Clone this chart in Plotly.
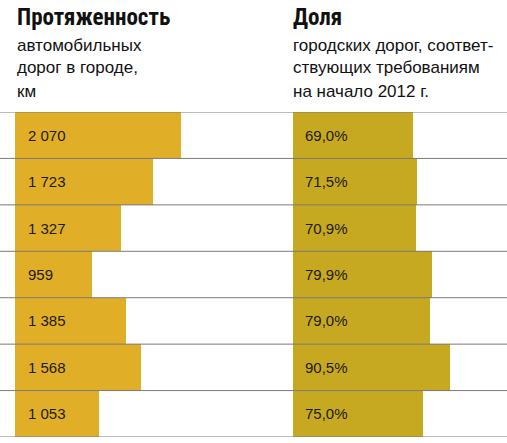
import plotly.graph_objects as go

# values
length_km = [2070, 1723, 1327, 959, 1385, 1568, 1053]
length_labels = ["2 070", "1 723", "1 327", "959", "1 385", "1 568", "1 053"]
share_pct = [69.0, 71.5, 70.9, 79.9, 79.0, 90.5, 75.0]
share_labels = ["69,0%", "71,5%", "70,9%", "79,9%", "79,0%", "90,5%", "75,0%"]
rows = list(range(len(length_km)))

left_title = "Протяженность"
left_sub = ["автомобильных", "дорог в городе,", "км"]
right_title = "Доля"
right_sub = ["городских дорог, соответ-", "ствующих требованиям", "на начало 2012 г."]

W, H = 507, 443
TXT_FONT = "Liberation Sans, Arial, sans-serif"
HEAD_FONT = "Roboto Condensed, DejaVu Sans Condensed, sans-serif"


def py(px):
    return 1 - px / H


fig = go.Figure()

fig.add_trace(
    go.Bar(
        x=length_km,
        y=rows,
        orientation="h",
        marker=dict(color="#E1AE28", line=dict(width=0)),
        xaxis="x",
        yaxis="y",
        hoverinfo="skip",
    )
)
fig.add_trace(
    go.Bar(
        x=share_pct,
        y=rows,
        orientation="h",
        marker=dict(color="#C6A920", line=dict(width=0)),
        xaxis="x2",
        yaxis="y",
        hoverinfo="skip",
    )
)

annotations = []
for r, lab in zip(rows, length_labels):
    annotations.append(
        dict(x=0, y=r, xref="x", yref="y", text=lab, showarrow=False,
             xanchor="left", xshift=11, font=dict(family=TXT_FONT, size=15, color="#1e1a10"))
    )
for r, lab in zip(rows, share_labels):
    annotations.append(
        dict(x=0, y=r, xref="x2", yref="y", text=lab, showarrow=False,
             xanchor="left", xshift=10, font=dict(family=TXT_FONT, size=15, color="#1e1a10"))
    )

# headers
annotations.append(
    dict(x=15 / W, y=py(18), xref="paper", yref="paper", text="<b>%s</b>" % left_title,
         showarrow=False, xanchor="left", yanchor="middle",
         font=dict(family=HEAD_FONT, size=23, color="#111"))
)
annotations.append(
    dict(x=291 / W, y=py(18), xref="paper", yref="paper", text="<b>%s</b>" % right_title,
         showarrow=False, xanchor="left", yanchor="middle",
         font=dict(family=HEAD_FONT, size=23, color="#111"))
)
for i, (a, b) in enumerate(zip(left_sub, right_sub)):
    yy = py(45 + 23 * i)
    annotations.append(
        dict(x=15 / W, y=yy, xref="paper", yref="paper", text=a, showarrow=False,
             xanchor="left", yanchor="middle", font=dict(family=TXT_FONT, size=17, color="#111"))
    )
    annotations.append(
        dict(x=291 / W, y=yy, xref="paper", yref="paper", text=b, showarrow=False,
             xanchor="left", yanchor="middle", font=dict(family=TXT_FONT, size=17, color="#111"))
    )

# row separators
shapes = []
for k in range(len(rows) + 1):
    shapes.append(
        dict(type="line", xref="paper", yref="y", x0=0, x1=1, y0=k - 0.5, y1=k - 0.5,
             line=dict(color="#7a7a7a", width=1), layer="above")
    )

fig.update_layout(
    width=W,
    height=H,
    margin=dict(l=0, r=0, t=0, b=0),
    paper_bgcolor="white",
    plot_bgcolor="white",
    showlegend=False,
    bargap=0,
    annotations=annotations,
    shapes=shapes,
    xaxis=dict(domain=[15 / W, 281 / W], range=[0, 266 / (166 / 2070)], visible=False),
    xaxis2=dict(domain=[293 / W, 1], range=[0, 214 / (120 / 69.0)], visible=False),
    yaxis=dict(domain=[1 - 437 / H, 1 - 112 / H], range=[len(rows) - 0.5, -0.5], visible=False),
)

# page has an 8px body margin by default, drop it so the figure sits at 0,0
fig.write_html(
    "out.html",
    config={"displayModeBar": False},
    post_script="document.body.style.margin='0';",
)
